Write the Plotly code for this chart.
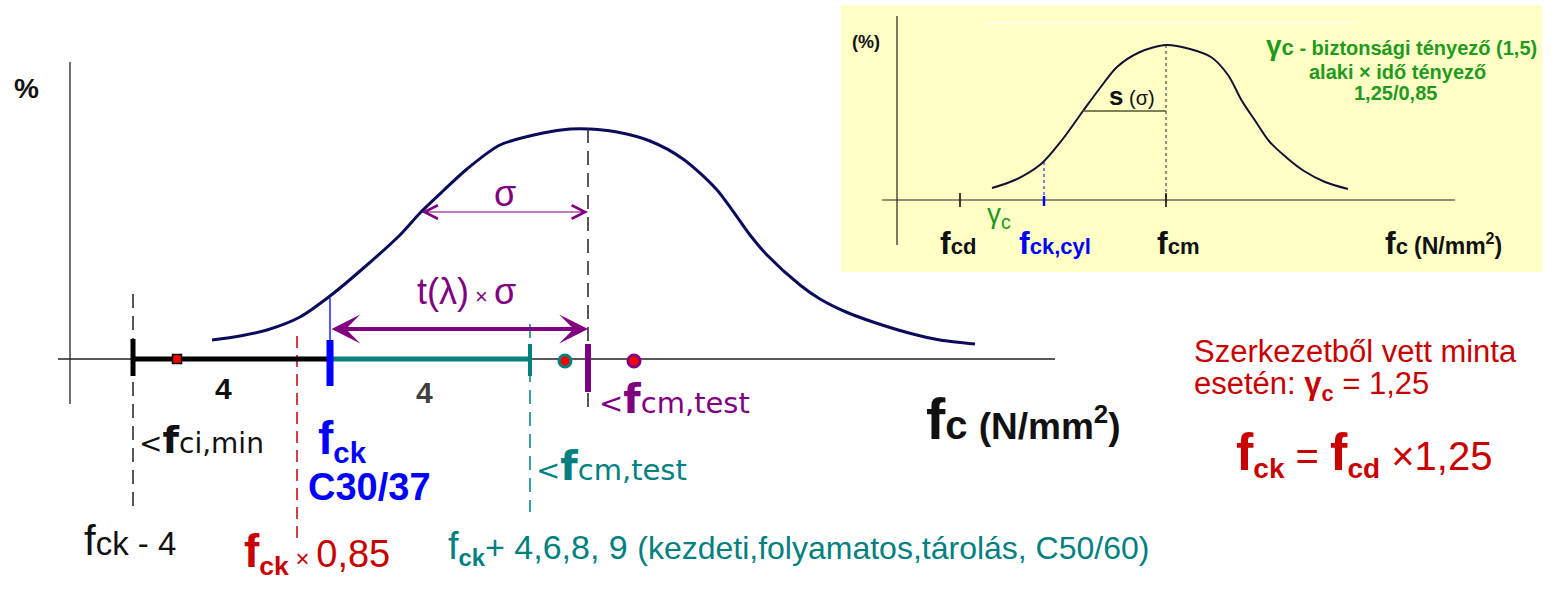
import plotly.graph_objects as go

W, H = 1554, 590
SANS = "Liberation Sans, Arial, sans-serif"
VERD = "DejaVu Sans, Verdana, sans-serif"

NAVY = "#0b0b5e"
PURPLE = "#800080"
TEAL = "#008080"
RED = "#c80000"
BLUE = "#0000ff"
GREEN = "#1f9a1f"
YELLOW = "#ffffc6"

# ---------------- main diagram data (positions) ----------------
main_curve_x = [212, 240, 267, 300, 330, 367, 400, 420, 443, 467, 500, 543, 570, 590,
                617, 650, 683, 717, 750, 767, 800, 820, 846, 876, 909, 940, 975]
main_curve_y = [340, 336, 330, 317, 296, 265, 235, 213, 191, 169, 145, 133, 129, 129,
                132, 141, 159, 190, 235, 255, 285, 299, 312, 323, 333, 340, 344]

axis_x = [58, 1055]          # horizontal axis extent
axis_level = 359             # horizontal axis position
yaxis_pos = 70               # vertical axis position
yaxis_span = [62, 404]

fci_min = 133                # f_ck - 4
fck_085 = 297                # f_ck x 0.85
fck = 330                    # f_ck
fcm_test_teal = 530          # f_ck + 4
fcm = 588                    # f_cm (mean)
sigma_left = 420             # one sigma left of the mean
sample_black = 177
sample_teal = 565
sample_purple = 634

# ---------------- inset data ----------------
inset_box = [841, 1542, 5, 272]
inset_curve_x = [992, 1015, 1041, 1062, 1083, 1100, 1117, 1140, 1166, 1190, 1211, 1228,
                 1242, 1256, 1269, 1287, 1304, 1325, 1348]
inset_curve_y = [188, 180, 164, 140, 111, 88, 67, 52, 45, 49, 57, 75, 101, 122, 141,
                 158, 171, 182, 189]
inset_axis_x = [882, 1455]
inset_axis_level = 200
inset_yaxis_pos = 897
inset_yaxis_span = [16, 245]
inset_fcd = 960
inset_fck = 1044
inset_fcm = 1166
inset_s_left = 1083
inset_s_level = 111

fig = go.Figure()


def line(xs, ys, color, width, dash="solid", smooth=False):
    fig.add_trace(go.Scatter(x=xs, y=ys, mode="lines",
                             line=dict(color=color, width=width, dash=dash,
                                       shape="spline" if smooth else "linear",
                                       smoothing=0.8),
                             hoverinfo="skip"))


def text(x, y, s, size, color, family=SANS, xanchor="left", yanchor="middle"):
    fig.add_annotation(x=x, y=y, xref="x", yref="y", text=s, showarrow=False,
                       xanchor=xanchor, yanchor=yanchor,
                       font=dict(size=size, color=color, family=family))


# inset background
fig.add_shape(type="rect", xref="x", yref="y", x0=inset_box[0], x1=inset_box[1],
              y0=inset_box[2], y1=inset_box[3], fillcolor=YELLOW, line=dict(width=0),
              layer="below")

# ---------------- main diagram ----------------
line([yaxis_pos, yaxis_pos], yaxis_span, "#222222", 1.3)
line(axis_x, [axis_level, axis_level], "#222222", 1.3)
line(main_curve_x, main_curve_y, NAVY, 3, smooth=True)

# dashed guide lines
line([fci_min, fci_min], [294, 514], "#222222", 1.5, "14px,8px")
line([fck_085, fck_085], [336, 540], RED, 1.5, "12px,7px")
line([fcm_test_teal, fcm_test_teal], [324, 512], TEAL, 1.5, "14px,8px")
line([fcm, fcm], [129, 412], "#222222", 1.5, "14px,8px")

# thick segments on the axis
line([fci_min, fck], [axis_level, axis_level], "black", 5)
line([fck, fcm_test_teal], [axis_level, axis_level], TEAL, 5)

# ticks
line([fci_min, fci_min], [339, 376], "black", 5)
line([fck, fck], [298, 340], BLUE, 1.3)
line([fck, fck], [340, 386], BLUE, 7)
line([fcm_test_teal, fcm_test_teal], [344, 376], TEAL, 4)
line([fcm, fcm], [344, 392], PURPLE, 6)

# sample markers
fig.add_trace(go.Scatter(x=[sample_black], y=[axis_level], mode="markers",
                         marker=dict(symbol="square", size=9, color="red",
                                     line=dict(color="black", width=1.5)), hoverinfo="skip"))
fig.add_trace(go.Scatter(x=[sample_teal, sample_purple], y=[axis_level + 2, axis_level + 2],
                         mode="markers",
                         marker=dict(symbol="circle", size=12, color="red",
                                     line=dict(color=[TEAL, PURPLE], width=3)),
                         hoverinfo="skip"))

# arrows
fig.add_annotation(x=fcm, y=329, ax=fck, ay=329, xref="x", yref="y", axref="x", ayref="y",
                   text="", showarrow=True, arrowhead=3, arrowside="end+start",
                   arrowwidth=4, arrowsize=1.2, arrowcolor=PURPLE)
fig.add_annotation(x=fcm, y=212, ax=sigma_left, ay=212, xref="x", yref="y", axref="x", ayref="y",
                   text="", showarrow=True, arrowhead=5, arrowside="end+start",
                   arrowwidth=1.2, arrowsize=2.2, arrowcolor=PURPLE)

# main texts
text(12, 88, "<b>%</b>", 28, "#111111")
text(223, 388, "<b>4</b>", 30, "#111111", xanchor="center")
text(424, 392, "<b>4</b>", 30, "#404040", xanchor="center")
text(505, 193, "σ", 36, PURPLE, xanchor="center")
text(466, 291, "t(λ)<span style='font-size:22px'> × </span>σ", 36, PURPLE, xanchor="center")
text(137, 440, "&lt;<b><span style='font-size:38px'>f</span></b>ci,min", 28, "#111111", family=VERD)
text(597, 399, "&lt;<b><span style='font-size:40px'>f</span></b>cm,test", 29, PURPLE, family=VERD)
text(534, 466, "&lt;<b><span style='font-size:40px'>f</span></b>cm,test", 29, TEAL, family=VERD)
text(316, 440, "<b><span style='font-size:46px'>f</span><sub>ck</sub></b>", 42, BLUE)
text(306, 487, "<b>C30/37</b>", 38, BLUE)
text(82, 540, "<span style='font-size:42px'>f</span>ck - 4", 33, "#111111")
text(242, 553, "<b><span style='font-size:46px'>f</span><sub>ck</sub></b>"
               "<span style='font-size:24px'> × </span>0,85", 38, RED)
text(446, 548, "<span style='font-size:38px'>f</span><b><sub>ck</sub></b>+ 4,6,8, 9 "
               "<span style='font-size:32px'>(kezdeti,folyamatos,tárolás, C50/60)</span>", 34, TEAL)
text(924, 418, "<b><span style='font-size:58px'>f</span>c "
               "<span style='font-size:37px'>(N/mm<sup>2</sup>)</span></b>", 40, "#111111")

# right side red texts
text(1192, 351, "Szerkezetből vett minta", 31, RED)
text(1192, 386, "esetén: <b>γ<sub>c</sub></b> = 1,25", 31, RED)
text(1364, 453, "<b><span style='font-size:52px'>f</span><sub>ck</sub></b> = "
                "<b><span style='font-size:52px'>f</span><sub>cd</sub></b> ×1,25", 40, RED,
     xanchor="center")

# ---------------- inset ----------------
line([983, 1358], [23, 23], "white", 1.2)
line([inset_yaxis_pos, inset_yaxis_pos], inset_yaxis_span, "#222222", 1.2)
line(inset_axis_x, [inset_axis_level, inset_axis_level], "#222222", 1.2)
line(inset_curve_x, inset_curve_y, "#111133", 2, smooth=True)
line([inset_fcm, inset_fcm], [45, inset_axis_level], "#222222", 1, "3px,3px")
line([inset_fck, inset_fck], [162, inset_axis_level], BLUE, 1, "3px,3px")
line([inset_s_left, inset_fcm], [inset_s_level, inset_s_level], "#555533", 1.5)
line([inset_fcd, inset_fcd], [193, 207], "black", 1.5)
line([inset_fcm, inset_fcm], [193, 207], "black", 1.5)
line([inset_fck, inset_fck], [196, 206], BLUE, 2.5)

text(850, 42, "<b>(%)</b>", 18, "#111111")
text(1107, 96, "<b><span style='font-size:26px'>s</span></b> (σ)", 20, "#111111")
text(985, 215, "γ<sub>c</sub>", 28, GREEN)
text(938, 243, "<b><span style='font-size:32px'>f</span>cd</b>", 22, "#111111")
text(1017, 243, "<b><span style='font-size:32px'>f</span>ck,cyl</b>", 22, BLUE)
text(1155, 243, "<b><span style='font-size:32px'>f</span>cm</b>", 22, "#111111")
text(1383, 243, "<b><span style='font-size:32px'>f</span>c <span style='font-size:23px'>"
                "(N/mm<sup>2</sup>)</span></b>", 22, "#111111")
text(1401, 45, "<b><span style='font-size:28px'>γ</span><span style='font-size:22px'>c</span>"
               " - biztonsági tényező (1,5)</b>", 20, GREEN, xanchor="center")
text(1397, 72, "<b>alaki × idő tényező</b>", 20, GREEN, xanchor="center")
text(1395, 93, "<b>1,25/0,85</b>", 20, GREEN, xanchor="center")

fig.update_layout(
    width=W, height=H, margin=dict(l=0, r=0, t=0, b=0),
    paper_bgcolor="white", plot_bgcolor="white", showlegend=False,
    xaxis=dict(range=[0, W], visible=False, fixedrange=True),
    yaxis=dict(range=[H, 0], visible=False, fixedrange=True),
    hovermode=False,
)

fig.write_html("out.html", config={"displayModeBar": False},
               post_script="document.body.style.margin='0';")
